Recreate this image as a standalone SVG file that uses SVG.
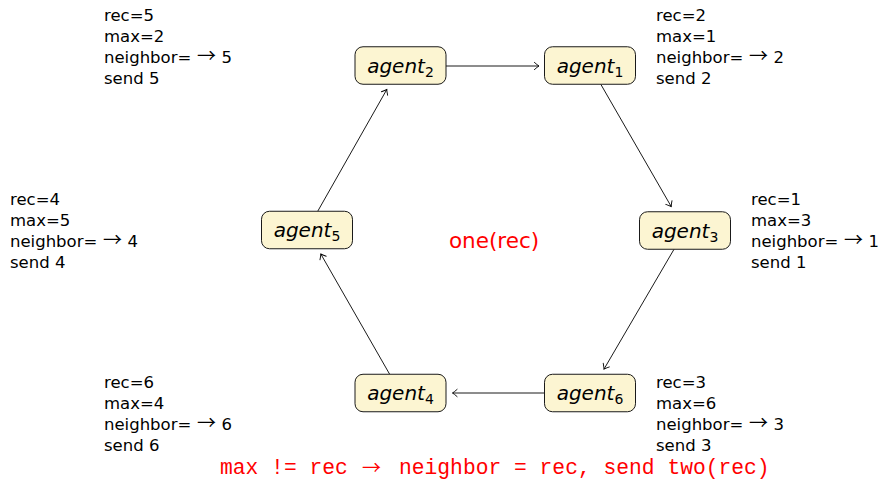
<svg xmlns="http://www.w3.org/2000/svg" width="882" height="479" viewBox="0 0 882 479">
  <defs>
    <!-- thin open "to" arrow tip -->
    <marker id="to" viewBox="-7 -5 9 10" markerWidth="9" markerHeight="10" refX="0" refY="0" orient="auto" markerUnits="userSpaceOnUse">
      <path d="M-4.6,-3.6 Q-1.6,-0.9 0,0 Q-1.6,0.9 -4.6,3.6" fill="none" stroke="#000" stroke-width="0.9" stroke-linecap="round"/>
    </marker>
  </defs>
  <style>
    .node rect { fill: #fcf5d2; stroke: #1a1a1a; stroke-width: 1; }
    .node text { font-family: "DejaVu Sans", sans-serif; font-style: italic; font-size: 20px; fill: #000; }
    .sub { font-size: 14px; font-style: normal; }
    .state { font-family: "DejaVu Sans", sans-serif; font-size: 16.5px; fill: #000; }
    .arr { font-family: "Noto Sans CJK SC", "DejaVu Sans", sans-serif; font-size: 19px; }
    .edge { stroke: #000; stroke-width: 0.9; fill: none; marker-end: url(#to); }
    .red { fill: #ff0000; }
    .rule { font-family: "Liberation Mono", monospace; font-size: 21.3px; }
  </style>

  <!-- ring connectors -->
  <g id="connectors">
    <line class="edge" x1="446" y1="66" x2="539" y2="66"/>
    <line class="edge" x1="600.8" y1="84.3" x2="671.2" y2="206.5"/>
    <line class="edge" x1="674" y1="249.3" x2="604" y2="369.1"/>
    <line class="edge" x1="544.5" y1="393" x2="452.5" y2="393"/>
    <line class="edge" x1="389.7" y1="374.3" x2="320.8" y2="254"/>
    <line class="edge" x1="317.7" y1="211.3" x2="386.8" y2="89.5"/>
  </g>

  <!-- agents -->
  <g id="agent2" class="node">
    <rect x="355" y="46.75" width="91" height="37.5" rx="8"/>
    <text x="400.5" y="72.5" text-anchor="middle">agent<tspan class="sub" dy="4">2</tspan></text>
  </g>
  <g id="agent1" class="node">
    <rect x="544.5" y="46.75" width="91" height="37.5" rx="8"/>
    <text x="590" y="72.5" text-anchor="middle">agent<tspan class="sub" dy="4">1</tspan></text>
  </g>
  <g id="agent5" class="node">
    <rect x="261.5" y="211.25" width="91" height="37.5" rx="8"/>
    <text x="307" y="237" text-anchor="middle">agent<tspan class="sub" dy="4">5</tspan></text>
  </g>
  <g id="agent3" class="node">
    <rect x="639.5" y="211.75" width="91" height="37.5" rx="8"/>
    <text x="685" y="237.5" text-anchor="middle">agent<tspan class="sub" dy="4">3</tspan></text>
  </g>
  <g id="agent4" class="node">
    <rect x="355" y="374.25" width="91" height="37.5" rx="8"/>
    <text x="400.5" y="400" text-anchor="middle">agent<tspan class="sub" dy="4">4</tspan></text>
  </g>
  <g id="agent6" class="node">
    <rect x="544.5" y="374.25" width="91" height="37.5" rx="8"/>
    <text x="590" y="400" text-anchor="middle">agent<tspan class="sub" dy="4">6</tspan></text>
  </g>

  <!-- per-agent state -->
  <g id="state-agent2">
    <text class="state"><tspan x="104" y="21">rec=5</tspan><tspan x="104" y="42">max=2</tspan><tspan x="104" y="63">neighbor=</tspan><tspan class="arr" x="197" y="63">→</tspan><tspan x="221.5" y="63">5</tspan><tspan x="104" y="84">send 5</tspan></text>
  </g>
  <g id="state-agent1">
    <text class="state"><tspan x="656" y="21">rec=2</tspan><tspan x="656" y="42">max=1</tspan><tspan x="656" y="63">neighbor=</tspan><tspan class="arr" x="749" y="63">→</tspan><tspan x="773.5" y="63">2</tspan><tspan x="656" y="84">send 2</tspan></text>
  </g>
  <g id="state-agent5">
    <text class="state"><tspan x="10" y="205">rec=4</tspan><tspan x="10" y="226">max=5</tspan><tspan x="10" y="247">neighbor=</tspan><tspan class="arr" x="103" y="247">→</tspan><tspan x="127.5" y="247">4</tspan><tspan x="10" y="268">send 4</tspan></text>
  </g>
  <g id="state-agent3">
    <text class="state"><tspan x="751" y="205">rec=1</tspan><tspan x="751" y="226">max=3</tspan><tspan x="751" y="247">neighbor=</tspan><tspan class="arr" x="844" y="247">→</tspan><tspan x="868.5" y="247">1</tspan><tspan x="751" y="268">send 1</tspan></text>
  </g>
  <g id="state-agent4">
    <text class="state"><tspan x="104" y="387.5">rec=6</tspan><tspan x="104" y="408.5">max=4</tspan><tspan x="104" y="429.5">neighbor=</tspan><tspan class="arr" x="197" y="429.5">→</tspan><tspan x="221.5" y="429.5">6</tspan><tspan x="104" y="450.5">send 6</tspan></text>
  </g>
  <g id="state-agent6">
    <text class="state"><tspan x="656" y="387.5">rec=3</tspan><tspan x="656" y="408.5">max=6</tspan><tspan x="656" y="429.5">neighbor=</tspan><tspan class="arr" x="749" y="429.5">→</tspan><tspan x="773.5" y="429.5">3</tspan><tspan x="656" y="450.5">send 3</tspan></text>
  </g>

  <!-- red annotations -->
  <text class="red" x="494" y="248" text-anchor="middle" font-family="DejaVu Sans, sans-serif" font-size="21.5">one(rec)</text>
  <text class="red rule"><tspan x="220" y="474">max != rec</tspan><tspan class="arr" x="362" y="475" font-size="22.5">→</tspan><tspan x="399" y="474">neighbor = rec, send two(rec)</tspan></text>
</svg>
